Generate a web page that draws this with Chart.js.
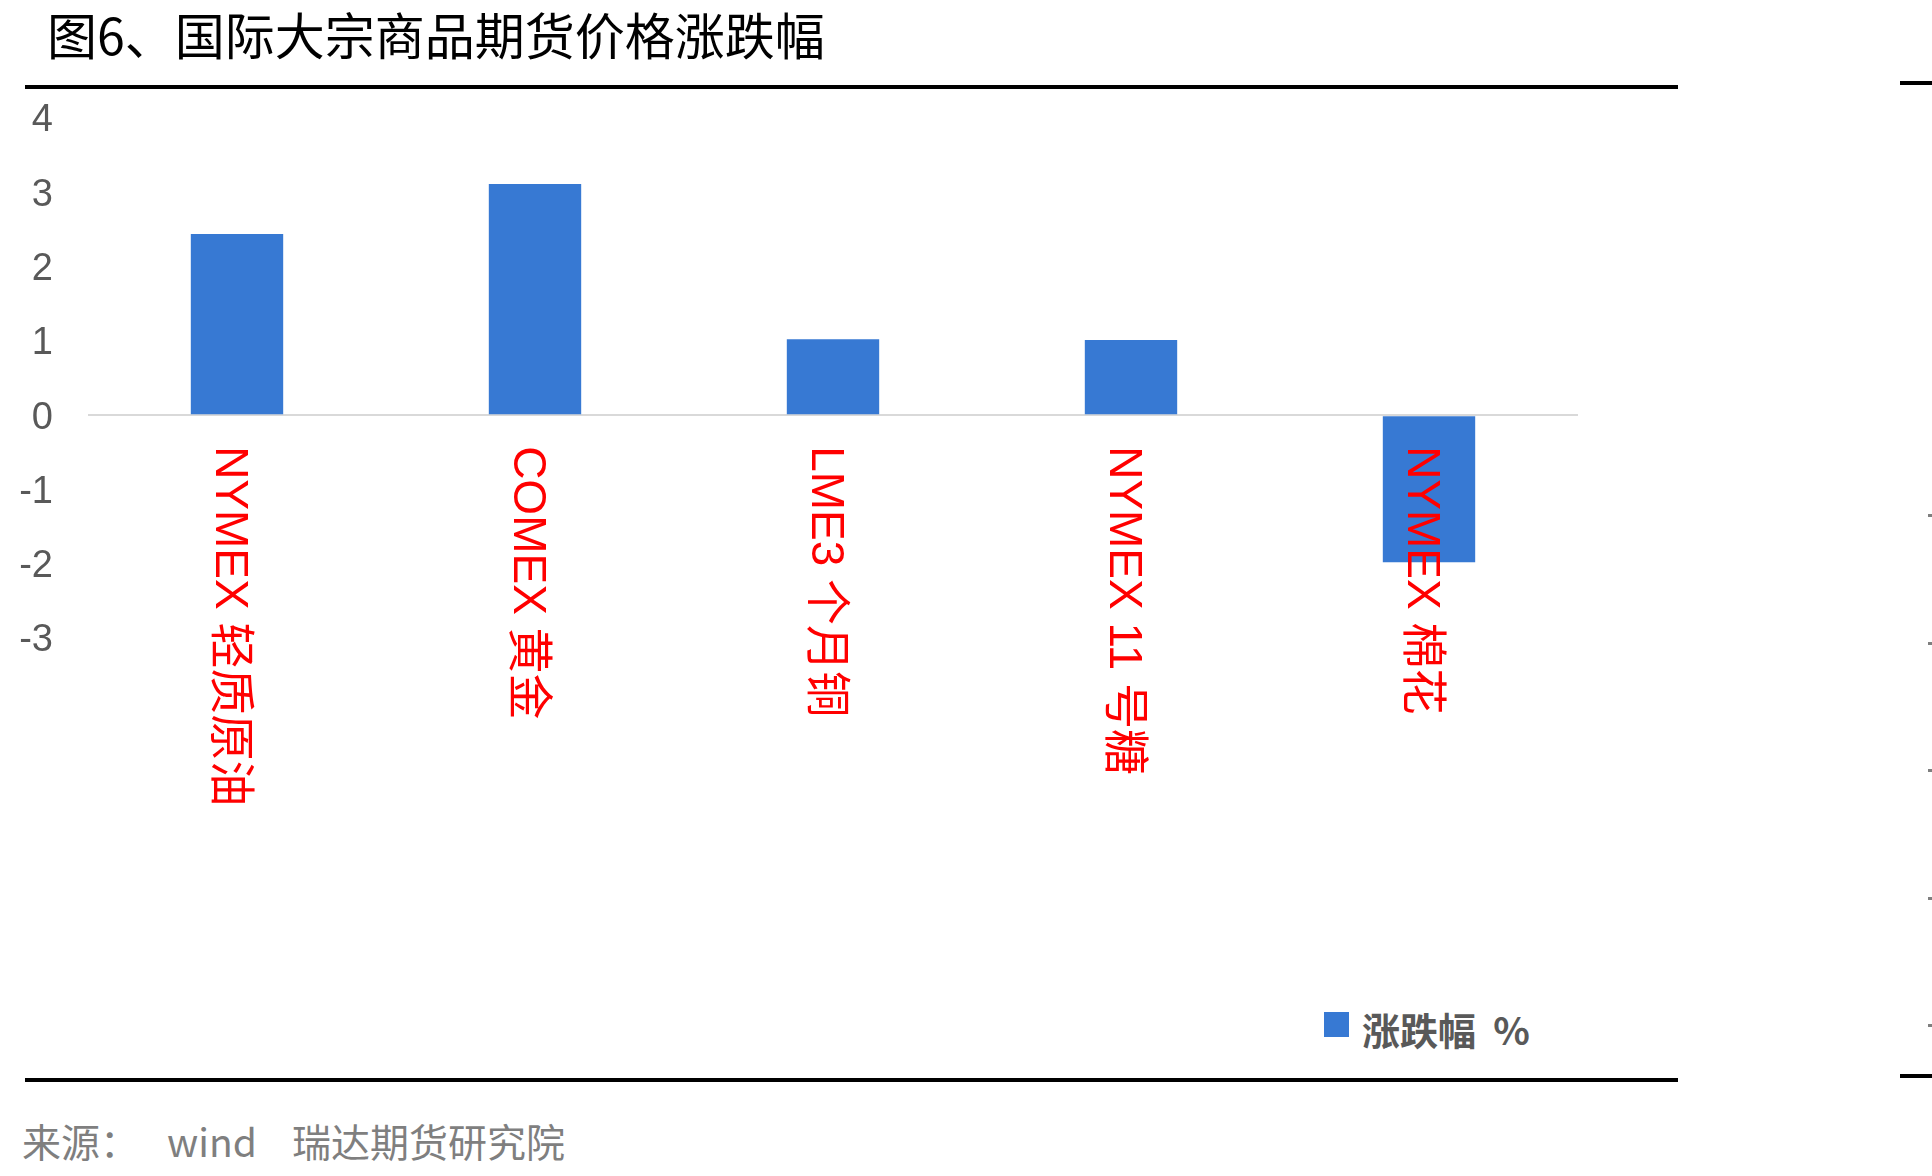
<!DOCTYPE html>
<html>
<head>
<meta charset="utf-8">
<title>图6、国际大宗商品期货价格涨跌幅</title>
<script src="https://cdn.jsdelivr.net/npm/chart.js@4.4.1/dist/chart.umd.min.js"></script>
<style>
    html, body {
        margin: 0;
        padding: 0;
        background: #ffffff;
    }
    #page {
        position: relative;
        width: 1932px;
        height: 1176px;
        overflow: hidden;
        background: #ffffff;
        font-family: "Noto Sans CJK SC", "Liberation Sans", sans-serif;
    }
    .abs {
        position: absolute;
        white-space: pre;
        line-height: 1;
    }
    .rule {
        position: absolute;
        background: #000000;
    }
    .mark {
        position: absolute;
        width: 4px;
        height: 3px;
        background: #7f7f7f;
    }
    #title {
        left: 47px;
        top: 8px;
        font-size: 50px;
        color: #000000;
    }
    #chartBox {
        position: absolute;
        left: 0;
        top: 60px;
        width: 1600px;
        height: 800px;
    }
    #chartBox canvas {
        display: block;
    }
    #legend {
        left: 1324px;
        top: 1010px;
        font-size: 38px;
        font-weight: bold;
        color: #595959;
    }
    #legend .swatch {
        position: absolute;
        left: 0;
        top: 2px;
        width: 25px;
        height: 25px;
        background: #3779d3;
    }
    #legend .text {
        position: absolute;
        left: 38px;
        top: 0;
    }
    .source {
        top: 1121px;
        font-size: 39px;
        color: #7f7f7f;
    }
</style>
</head>
<body>
<div id="page">
    <div id="title" class="abs">图6、国际大宗商品期货价格涨跌幅</div>

    <div class="rule" style="left:25px; top:85px; width:1653px; height:4px;"></div>
    <div class="rule" style="left:1900px; top:81px; width:32px; height:4px;"></div>

    <div id="chartBox"><canvas id="chart"></canvas></div>

    <div id="legend" class="abs">
        <div class="swatch"></div>
        <div class="text">涨跌幅  %</div>
    </div>

    <div class="rule" style="left:25px; top:1078px; width:1653px; height:4px;"></div>
    <div class="rule" style="left:1900px; top:1074px; width:32px; height:4px;"></div>

    <div class="mark" style="left:1928px; top:514px;"></div>
    <div class="mark" style="left:1928px; top:642px;"></div>
    <div class="mark" style="left:1928px; top:769px;"></div>
    <div class="mark" style="left:1928px; top:897px;"></div>
    <div class="mark" style="left:1928px; top:1024px;"></div>

    <div class="abs source" style="left:22px;">来源：</div>
    <div class="abs source" style="left:167px;">wind</div>
    <div class="abs source" style="left:292px;">瑞达期货研究院</div>
</div>

<script>
    // Data
    var categories = ['NYMEX 轻质原油', 'COMEX 黄金', 'LME3 个月铜', 'NYMEX 11 号糖', 'NYMEX 棉花'];
    var changePct = [2.44, 3.11, 1.02, 1.01, -1.98];
    var seriesLabel = '涨跌幅  %';
    var yTicks = [4, 3, 2, 1, 0, -1, -2, -3];

    var BAR_COLOR = '#3779d3';
    var LABEL_FONT = '46px "Liberation Sans", "Noto Sans CJK SC", sans-serif';

    // Category labels: red, rotated a quarter turn clockwise, hung under the zero line
    var verticalLabels = {
        id: 'verticalLabels',
        afterDatasetsDraw: function (chart) {
            var ctx = chart.ctx;
            var xScale = chart.scales.x;
            var yScale = chart.scales.y;
            var top = yScale.getPixelForValue(0) + 31;

            ctx.save();
            ctx.font = LABEL_FONT;
            ctx.fillStyle = '#ff0000';
            ctx.textAlign = 'left';
            ctx.textBaseline = 'middle';
            categories.forEach(function (label, i) {
                var x = xScale.getPixelForValue(i) - 8;
                ctx.save();
                ctx.translate(x, top);
                ctx.rotate(Math.PI / 2);
                ctx.fillText(label, 0, 0);
                ctx.restore();
            });
            ctx.restore();
        }
    };

    var chart = new Chart(document.getElementById('chart'), {
        type: 'bar',
        data: {
            labels: categories,
            datasets: [{
                label: seriesLabel,
                data: changePct,
                backgroundColor: BAR_COLOR,
                borderWidth: 0,
                categoryPercentage: 1.0,
                barPercentage: 0.31
            }]
        },
        options: {
            responsive: true,
            maintainAspectRatio: false,
            animation: false,
            events: [],
            layout: {
                padding: { top: 58, bottom: 222, left: 0, right: 22 }
            },
            plugins: {
                legend: { display: false },
                tooltip: { enabled: false }
            },
            scales: {
                x: {
                    display: false
                },
                y: {
                    min: -3,
                    max: 4,
                    afterFit: function (scale) {
                        scale.width = 88;
                    },
                    afterBuildTicks: function (scale) {
                        scale.ticks = yTicks.map(function (v) { return { value: v }; });
                    },
                    border: { display: false },
                    grid: {
                        drawTicks: false,
                        lineWidth: 2,
                        color: function (c) {
                            return c.tick && c.tick.value === 0 ? '#d9d9d9' : 'rgba(0,0,0,0)';
                        }
                    },
                    ticks: {
                        padding: 35,
                        labelOffset: 3,
                        color: '#595959',
                        font: { family: '"Liberation Sans", "Noto Sans", sans-serif', size: 38 }
                    }
                }
            }
        },
        plugins: [verticalLabels]
    });
</script>
</body>
</html>
